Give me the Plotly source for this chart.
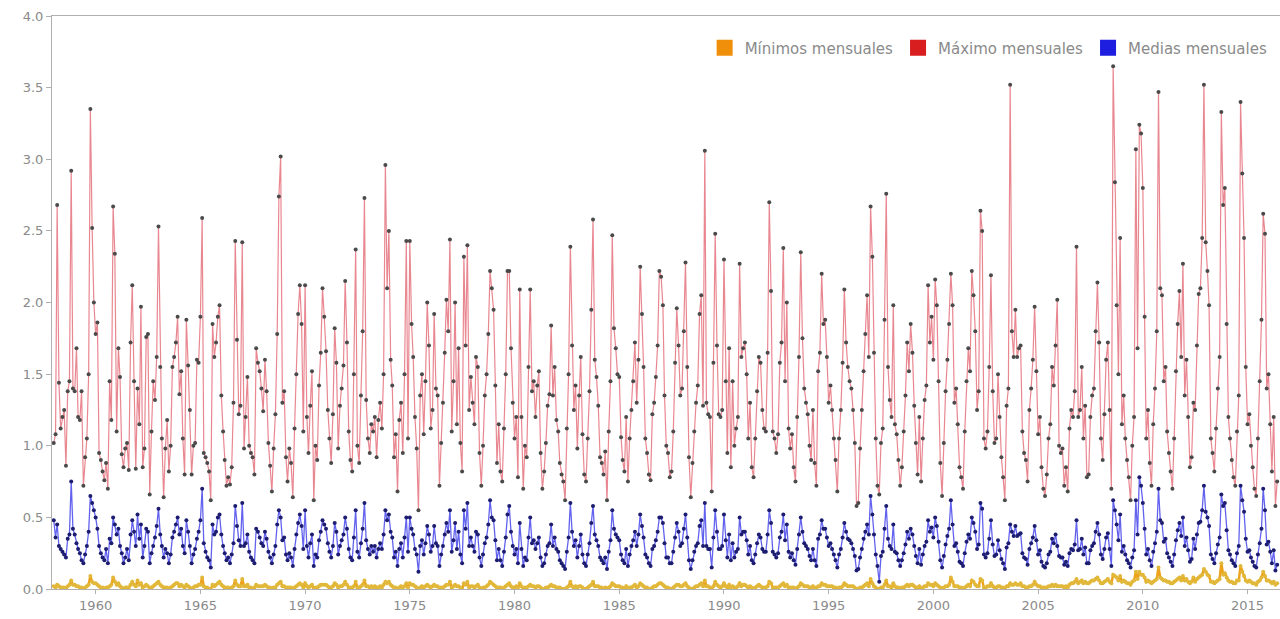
import pandas as pd
import plotly.graph_objects as go

# Monthly series, one row per year (Jan..Dec), starting January 1958
start_month = "1958-01-01"

maximos = [
    [1.02, 1.08, 2.68, 1.44, 1.12, 1.20, 1.25, 0.86, 1.38, 1.45, 2.92, 1.40],  # 1958
    [1.38, 1.68, 1.20, 1.18, 1.38, 0.72, 0.92, 1.05, 1.50, 3.35, 2.52, 2.00],  # 1959
    [1.78, 1.86, 0.95, 0.90, 0.82, 0.76, 0.88, 0.70, 1.45, 1.18, 2.67, 2.34],  # 1960
    [1.10, 1.68, 1.48, 0.94, 0.85, 0.98, 1.02, 0.83, 1.72, 2.12, 1.45, 0.84],  # 1961
    [1.40, 1.15, 1.97, 0.85, 0.98, 1.76, 1.78, 0.66, 1.10, 1.45, 1.32, 1.62],  # 1962
    [2.53, 1.55, 1.05, 0.64, 0.98, 1.18, 0.82, 1.00, 1.55, 1.62, 1.72, 1.90],  # 1963
    [1.36, 1.52, 1.05, 0.80, 1.88, 1.56, 1.25, 0.80, 1.00, 1.02, 1.60, 1.58],  # 1964
    [1.90, 2.59, 0.95, 0.92, 0.88, 0.82, 0.62, 1.85, 1.62, 1.72, 1.90, 1.98],  # 1965
    [1.35, 1.10, 0.90, 0.72, 0.78, 0.73, 0.85, 1.30, 2.43, 1.74, 1.22, 1.28],  # 1966
    [2.42, 0.98, 1.20, 1.48, 1.00, 0.95, 0.92, 0.80, 1.68, 1.58, 1.52, 1.40],  # 1967
    [1.24, 1.60, 1.38, 1.02, 0.86, 0.68, 0.98, 1.22, 1.78, 2.74, 3.02, 1.30],  # 1968
    [1.38, 0.92, 0.75, 0.98, 0.88, 0.64, 1.12, 1.50, 1.92, 2.12, 1.85, 1.10],  # 1969
    [2.12, 1.20, 0.95, 1.28, 1.52, 0.62, 1.00, 0.90, 1.42, 1.65, 2.10, 1.90],  # 1970
    [1.66, 1.25, 1.05, 0.88, 1.22, 1.82, 1.58, 0.98, 1.28, 1.40, 1.56, 2.15],  # 1971
    [1.72, 1.10, 0.90, 0.82, 1.50, 2.37, 1.00, 0.88, 1.35, 1.80, 2.73, 1.32],  # 1972
    [1.05, 0.95, 1.15, 1.10, 1.20, 0.92, 1.18, 1.30, 1.12, 1.50, 2.96, 2.10],  # 1973
    [2.50, 1.60, 1.42, 0.92, 1.08, 0.68, 1.18, 1.30, 0.95, 1.50, 2.43, 1.05],  # 1974
    [2.43, 1.85, 1.62, 1.20, 0.98, 0.55, 1.35, 1.50, 1.08, 1.45, 2.00, 1.70],  # 1975
    [1.12, 1.25, 1.92, 1.40, 1.35, 0.72, 1.02, 1.30, 1.65, 2.02, 1.80, 2.44],  # 1976
    [1.10, 1.45, 2.00, 1.15, 1.68, 1.02, 0.82, 2.32, 1.70, 2.40, 1.25, 1.48],  # 1977
    [1.30, 1.15, 1.62, 1.55, 0.95, 0.72, 1.00, 1.35, 1.50, 1.78, 2.22, 2.10],  # 1978
    [1.95, 1.42, 0.88, 1.15, 0.82, 0.75, 1.12, 1.50, 2.22, 2.22, 1.68, 1.30],  # 1979
    [1.05, 1.20, 0.78, 2.09, 1.20, 0.70, 1.00, 0.92, 1.55, 2.09, 1.38, 1.45],  # 1980
    [1.20, 1.42, 1.52, 0.95, 0.70, 0.82, 1.02, 1.28, 1.36, 1.84, 1.35, 1.55],  # 1981
    [1.18, 1.10, 0.88, 0.80, 0.75, 0.62, 1.12, 1.50, 2.39, 1.70, 1.25, 1.42],  # 1982
    [0.98, 1.35, 1.62, 1.08, 0.80, 0.75, 1.05, 1.38, 1.95, 2.58, 1.60, 1.48],  # 1983
    [1.28, 0.92, 0.88, 0.80, 0.96, 0.62, 1.10, 1.45, 2.47, 1.82, 1.68, 1.50],  # 1984
    [1.48, 1.06, 0.90, 0.82, 1.20, 0.75, 1.05, 1.25, 1.45, 1.72, 1.30, 1.60],  # 1985
    [2.25, 1.92, 1.55, 1.05, 0.95, 0.80, 0.76, 1.22, 1.30, 1.48, 1.70, 2.22],  # 1986
    [2.18, 1.98, 1.35, 1.00, 0.95, 0.78, 0.82, 1.10, 1.58, 1.96, 1.70, 1.35],  # 1987
    [1.40, 1.80, 2.28, 1.55, 0.92, 0.64, 0.88, 1.10, 1.30, 1.42, 1.92, 2.05],  # 1988
    [1.28, 3.06, 1.30, 1.22, 1.20, 0.68, 1.58, 2.48, 1.70, 1.22, 1.20, 1.25],  # 1989
    [2.30, 1.45, 0.95, 1.68, 0.85, 1.45, 1.00, 1.12, 1.20, 2.27, 1.62, 1.68],  # 1990
    [1.72, 1.50, 1.05, 1.30, 0.85, 0.78, 1.05, 1.38, 1.62, 1.58, 1.25, 1.12],  # 1991
    [1.10, 1.65, 2.70, 2.08, 1.10, 1.05, 0.95, 1.08, 1.58, 1.72, 2.38, 1.45],  # 1992
    [2.00, 1.12, 0.98, 1.08, 0.85, 0.75, 1.20, 1.62, 2.35, 1.75, 1.40, 1.30],  # 1993
    [1.22, 1.00, 0.90, 1.25, 0.88, 0.72, 1.52, 1.65, 2.20, 1.85, 1.88, 1.62],  # 1994
    [1.30, 1.42, 1.25, 1.05, 0.90, 0.68, 1.05, 1.25, 1.58, 2.09, 1.72, 1.55],  # 1995
    [1.45, 1.40, 1.25, 1.02, 0.58, 0.60, 0.98, 1.25, 1.52, 1.78, 2.05, 1.62],  # 1996
    [2.67, 2.32, 1.65, 1.05, 0.72, 0.66, 1.02, 1.12, 1.88, 2.76, 1.55, 1.32],  # 1997
    [1.20, 1.98, 1.15, 1.08, 0.90, 0.72, 0.85, 1.10, 1.35, 1.72, 1.52, 1.85],  # 1998
    [1.65, 1.28, 1.02, 0.80, 1.20, 0.75, 1.05, 1.32, 1.42, 2.12, 1.72, 1.90],  # 1999
    [1.60, 2.16, 1.98, 1.45, 0.88, 0.65, 1.02, 1.38, 1.60, 1.85, 2.20, 1.98],  # 2000
    [1.30, 1.40, 1.15, 0.85, 0.78, 0.70, 1.10, 1.45, 1.68, 1.52, 2.22, 2.05],  # 2001
    [1.80, 1.25, 1.38, 2.64, 2.50, 1.05, 0.98, 1.10, 1.55, 2.19, 1.38, 1.02],  # 2002
    [1.05, 1.50, 1.20, 0.92, 0.78, 0.62, 1.28, 1.40, 3.52, 1.80, 1.62, 1.95],  # 2003
    [1.62, 1.68, 1.70, 1.10, 0.95, 0.90, 0.75, 1.25, 1.40, 1.60, 1.97, 1.52],  # 2004
    [1.08, 1.20, 0.85, 0.70, 0.65, 0.80, 1.05, 1.15, 1.55, 1.42, 1.70, 2.02],  # 2005
    [1.00, 0.95, 0.98, 0.72, 0.85, 0.68, 1.12, 1.25, 1.20, 1.38, 2.39, 1.20],  # 2006
    [1.25, 1.55, 1.05, 1.28, 0.78, 0.80, 1.20, 1.35, 1.40, 1.80, 2.14, 1.72],  # 2007
    [1.05, 0.90, 1.22, 1.60, 1.72, 1.25, 0.70, 3.65, 2.84, 1.98, 1.50, 2.45],  # 2008
    [1.15, 1.35, 1.05, 0.90, 0.78, 0.62, 1.00, 1.20, 3.07, 1.68, 3.24, 3.18],  # 2009
    [2.80, 1.90, 1.05, 1.25, 0.88, 0.72, 1.15, 1.40, 1.80, 3.47, 2.10, 2.05],  # 2010
    [1.45, 1.55, 1.10, 0.95, 0.82, 0.70, 1.05, 1.52, 1.85, 2.08, 1.62, 2.27],  # 2011
    [1.35, 1.60, 1.20, 0.85, 0.92, 1.30, 1.25, 1.70, 2.06, 2.10, 2.45, 3.52],  # 2012
    [2.42, 2.22, 1.98, 1.05, 0.95, 0.82, 1.12, 1.40, 1.62, 3.33, 2.68, 2.80],  # 2013
    [1.85, 1.20, 1.05, 0.90, 0.78, 0.72, 1.10, 1.35, 3.40, 2.90, 2.45, 1.55],  # 2014
    [1.15, 1.22, 1.00, 0.85, 0.70, 0.65, 1.05, 1.45, 1.88, 2.62, 2.48, 1.40],  # 2015
    [1.50, 1.15, 0.82, 1.20, 0.58, 0.75],                                      # 2016
]

medias = [
    [0.48, 0.36, 0.45, 0.30, 0.28, 0.26, 0.24, 0.22, 0.35, 0.38, 0.75, 0.42],  # 1958
    [0.38, 0.32, 0.28, 0.25, 0.20, 0.18, 0.24, 0.30, 0.40, 0.65, 0.60, 0.55],  # 1959
    [0.50, 0.42, 0.30, 0.25, 0.22, 0.20, 0.28, 0.18, 0.35, 0.32, 0.50, 0.45],  # 1960
    [0.38, 0.42, 0.30, 0.25, 0.18, 0.22, 0.28, 0.20, 0.38, 0.48, 0.40, 0.30],  # 1961
    [0.52, 0.35, 0.45, 0.22, 0.30, 0.42, 0.40, 0.18, 0.25, 0.30, 0.36, 0.44],  # 1962
    [0.56, 0.38, 0.30, 0.22, 0.28, 0.25, 0.18, 0.24, 0.36, 0.40, 0.45, 0.50],  # 1963
    [0.38, 0.42, 0.30, 0.25, 0.48, 0.40, 0.30, 0.18, 0.24, 0.28, 0.35, 0.40],  # 1964
    [0.48, 0.70, 0.32, 0.26, 0.22, 0.20, 0.15, 0.45, 0.38, 0.40, 0.50, 0.52],  # 1965
    [0.38, 0.30, 0.25, 0.20, 0.22, 0.18, 0.24, 0.32, 0.58, 0.44, 0.34, 0.30],  # 1966
    [0.60, 0.30, 0.32, 0.38, 0.26, 0.22, 0.20, 0.18, 0.42, 0.40, 0.36, 0.32],  # 1967
    [0.30, 0.40, 0.35, 0.26, 0.22, 0.18, 0.24, 0.30, 0.45, 0.55, 0.50, 0.34],  # 1968
    [0.36, 0.24, 0.20, 0.25, 0.22, 0.16, 0.28, 0.38, 0.46, 0.52, 0.44, 0.28],  # 1969
    [0.55, 0.30, 0.22, 0.32, 0.38, 0.16, 0.24, 0.22, 0.34, 0.40, 0.48, 0.45],  # 1970
    [0.42, 0.32, 0.26, 0.22, 0.30, 0.46, 0.40, 0.24, 0.30, 0.34, 0.38, 0.50],  # 1971
    [0.42, 0.28, 0.22, 0.20, 0.36, 0.55, 0.26, 0.22, 0.32, 0.42, 0.60, 0.34],  # 1972
    [0.28, 0.24, 0.30, 0.26, 0.30, 0.22, 0.28, 0.32, 0.28, 0.38, 0.55, 0.48],  # 1973
    [0.52, 0.40, 0.36, 0.22, 0.26, 0.16, 0.28, 0.32, 0.22, 0.36, 0.50, 0.26],  # 1974
    [0.50, 0.42, 0.38, 0.28, 0.24, 0.12, 0.30, 0.34, 0.24, 0.32, 0.44, 0.38],  # 1975
    [0.26, 0.30, 0.44, 0.32, 0.30, 0.16, 0.24, 0.30, 0.38, 0.46, 0.40, 0.55],  # 1976
    [0.26, 0.34, 0.46, 0.28, 0.40, 0.24, 0.18, 0.55, 0.42, 0.60, 0.30, 0.36],  # 1977
    [0.30, 0.26, 0.40, 0.38, 0.22, 0.16, 0.24, 0.32, 0.36, 0.45, 0.62, 0.50],  # 1978
    [0.48, 0.34, 0.20, 0.28, 0.20, 0.16, 0.26, 0.36, 0.52, 0.58, 0.40, 0.30],  # 1979
    [0.24, 0.28, 0.18, 0.46, 0.28, 0.16, 0.22, 0.20, 0.36, 0.50, 0.32, 0.34],  # 1980
    [0.28, 0.32, 0.36, 0.22, 0.16, 0.18, 0.24, 0.30, 0.32, 0.45, 0.30, 0.36],  # 1981
    [0.28, 0.26, 0.20, 0.18, 0.16, 0.14, 0.26, 0.36, 0.60, 0.40, 0.30, 0.34],  # 1982
    [0.22, 0.30, 0.38, 0.24, 0.18, 0.16, 0.24, 0.32, 0.46, 0.58, 0.38, 0.34],  # 1983
    [0.30, 0.22, 0.20, 0.18, 0.22, 0.14, 0.26, 0.34, 0.55, 0.42, 0.38, 0.36],  # 1984
    [0.34, 0.24, 0.20, 0.18, 0.28, 0.16, 0.24, 0.30, 0.34, 0.40, 0.30, 0.38],  # 1985
    [0.52, 0.44, 0.36, 0.24, 0.22, 0.18, 0.16, 0.28, 0.30, 0.34, 0.40, 0.50],  # 1986
    [0.50, 0.46, 0.32, 0.22, 0.22, 0.18, 0.18, 0.26, 0.36, 0.46, 0.40, 0.30],  # 1987
    [0.32, 0.42, 0.52, 0.36, 0.20, 0.14, 0.20, 0.26, 0.30, 0.32, 0.44, 0.48],  # 1988
    [0.30, 0.60, 0.30, 0.28, 0.28, 0.15, 0.36, 0.55, 0.40, 0.28, 0.28, 0.30],  # 1989
    [0.52, 0.34, 0.22, 0.38, 0.20, 0.32, 0.22, 0.26, 0.28, 0.50, 0.38, 0.40],  # 1990
    [0.40, 0.34, 0.24, 0.30, 0.20, 0.18, 0.24, 0.32, 0.38, 0.36, 0.28, 0.26],  # 1991
    [0.26, 0.38, 0.55, 0.46, 0.26, 0.24, 0.22, 0.25, 0.36, 0.40, 0.52, 0.34],  # 1992
    [0.45, 0.26, 0.22, 0.25, 0.20, 0.17, 0.28, 0.38, 0.50, 0.40, 0.32, 0.30],  # 1993
    [0.28, 0.23, 0.20, 0.28, 0.20, 0.16, 0.35, 0.38, 0.48, 0.42, 0.42, 0.36],  # 1994
    [0.30, 0.32, 0.28, 0.24, 0.20, 0.15, 0.24, 0.28, 0.36, 0.46, 0.40, 0.35],  # 1995
    [0.34, 0.32, 0.28, 0.23, 0.13, 0.14, 0.22, 0.28, 0.35, 0.40, 0.45, 0.38],  # 1996
    [0.65, 0.52, 0.38, 0.24, 0.16, 0.05, 0.23, 0.26, 0.42, 0.58, 0.35, 0.30],  # 1997
    [0.28, 0.45, 0.26, 0.25, 0.20, 0.16, 0.20, 0.25, 0.31, 0.40, 0.35, 0.42],  # 1998
    [0.38, 0.30, 0.23, 0.18, 0.28, 0.17, 0.24, 0.30, 0.33, 0.48, 0.40, 0.43],  # 1999
    [0.36, 0.50, 0.44, 0.33, 0.20, 0.15, 0.23, 0.31, 0.37, 0.42, 0.62, 0.45],  # 2000
    [0.30, 0.32, 0.26, 0.19, 0.18, 0.16, 0.25, 0.33, 0.38, 0.35, 0.50, 0.46],  # 2001
    [0.40, 0.28, 0.31, 0.60, 0.56, 0.24, 0.22, 0.25, 0.35, 0.48, 0.31, 0.23],  # 2002
    [0.24, 0.34, 0.27, 0.21, 0.18, 0.14, 0.29, 0.32, 0.45, 0.40, 0.37, 0.44],  # 2003
    [0.37, 0.38, 0.39, 0.25, 0.22, 0.21, 0.17, 0.28, 0.32, 0.36, 0.44, 0.34],  # 2004
    [0.24, 0.27, 0.19, 0.16, 0.15, 0.18, 0.24, 0.26, 0.35, 0.32, 0.38, 0.30],  # 2005
    [0.23, 0.22, 0.22, 0.17, 0.19, 0.16, 0.25, 0.28, 0.27, 0.31, 0.48, 0.27],  # 2006
    [0.28, 0.35, 0.24, 0.29, 0.18, 0.18, 0.27, 0.30, 0.32, 0.40, 0.46, 0.38],  # 2007
    [0.24, 0.21, 0.28, 0.36, 0.39, 0.28, 0.16, 0.62, 0.55, 0.45, 0.34, 0.52],  # 2008
    [0.26, 0.30, 0.24, 0.20, 0.18, 0.15, 0.22, 0.27, 0.62, 0.38, 0.78, 0.72],  # 2009
    [0.60, 0.42, 0.24, 0.28, 0.20, 0.16, 0.26, 0.32, 0.40, 0.70, 0.48, 0.46],  # 2010
    [0.33, 0.35, 0.25, 0.22, 0.19, 0.16, 0.24, 0.34, 0.41, 0.46, 0.37, 0.50],  # 2011
    [0.30, 0.36, 0.27, 0.19, 0.21, 0.35, 0.28, 0.38, 0.46, 0.47, 0.55, 0.72],  # 2012
    [0.54, 0.50, 0.44, 0.24, 0.21, 0.18, 0.25, 0.31, 0.36, 0.66, 0.58, 0.60],  # 2013
    [0.41, 0.27, 0.24, 0.20, 0.18, 0.16, 0.25, 0.30, 0.72, 0.62, 0.54, 0.35],  # 2014
    [0.26, 0.27, 0.22, 0.19, 0.16, 0.15, 0.24, 0.32, 0.42, 0.70, 0.55, 0.31],  # 2015
    [0.33, 0.26, 0.18, 0.27, 0.13, 0.17],                                      # 2016
]

minimos = [
    [0.02, 0.01, 0.03, 0.02, 0.01, 0.01, 0.01, 0.00, 0.02, 0.03, 0.06, 0.03],  # 1958
    [0.03, 0.02, 0.02, 0.01, 0.01, 0.00, 0.01, 0.02, 0.03, 0.09, 0.05, 0.04],  # 1959
    [0.04, 0.03, 0.02, 0.01, 0.01, 0.00, 0.01, 0.01, 0.02, 0.03, 0.08, 0.05],  # 1960
    [0.03, 0.04, 0.02, 0.01, 0.00, 0.01, 0.01, 0.01, 0.03, 0.05, 0.03, 0.02],  # 1961
    [0.06, 0.03, 0.04, 0.01, 0.02, 0.03, 0.02, 0.00, 0.01, 0.02, 0.03, 0.04],  # 1962
    [0.05, 0.03, 0.02, 0.01, 0.01, 0.01, 0.00, 0.01, 0.02, 0.03, 0.04, 0.04],  # 1963
    [0.02, 0.03, 0.02, 0.01, 0.03, 0.02, 0.01, 0.00, 0.01, 0.02, 0.02, 0.03],  # 1964
    [0.03, 0.08, 0.02, 0.01, 0.01, 0.00, 0.00, 0.03, 0.02, 0.03, 0.04, 0.05],  # 1965
    [0.03, 0.02, 0.01, 0.01, 0.01, 0.00, 0.01, 0.02, 0.06, 0.03, 0.02, 0.02],  # 1966
    [0.07, 0.02, 0.02, 0.03, 0.01, 0.01, 0.00, 0.01, 0.03, 0.02, 0.02, 0.02],  # 1967
    [0.02, 0.03, 0.02, 0.01, 0.01, 0.00, 0.01, 0.01, 0.03, 0.04, 0.05, 0.02],  # 1968
    [0.02, 0.01, 0.01, 0.01, 0.01, 0.00, 0.01, 0.02, 0.03, 0.04, 0.03, 0.01],  # 1969
    [0.04, 0.02, 0.01, 0.02, 0.03, 0.00, 0.01, 0.01, 0.02, 0.03, 0.03, 0.03],  # 1970
    [0.03, 0.02, 0.01, 0.01, 0.02, 0.04, 0.03, 0.01, 0.02, 0.02, 0.03, 0.05],  # 1971
    [0.03, 0.01, 0.01, 0.01, 0.02, 0.05, 0.01, 0.01, 0.02, 0.03, 0.06, 0.02],  # 1972
    [0.02, 0.01, 0.02, 0.01, 0.02, 0.01, 0.01, 0.02, 0.01, 0.03, 0.05, 0.04],  # 1973
    [0.05, 0.03, 0.02, 0.01, 0.01, 0.00, 0.01, 0.02, 0.01, 0.02, 0.04, 0.01],  # 1974
    [0.04, 0.03, 0.03, 0.02, 0.01, 0.00, 0.01, 0.02, 0.01, 0.02, 0.03, 0.02],  # 1975
    [0.01, 0.02, 0.03, 0.02, 0.02, 0.00, 0.01, 0.01, 0.02, 0.03, 0.03, 0.05],  # 1976
    [0.01, 0.02, 0.03, 0.02, 0.02, 0.01, 0.00, 0.04, 0.03, 0.05, 0.01, 0.02],  # 1977
    [0.02, 0.01, 0.02, 0.03, 0.01, 0.00, 0.01, 0.01, 0.02, 0.03, 0.05, 0.04],  # 1978
    [0.03, 0.02, 0.01, 0.01, 0.01, 0.00, 0.01, 0.02, 0.03, 0.04, 0.02, 0.01],  # 1979
    [0.01, 0.02, 0.01, 0.04, 0.02, 0.00, 0.01, 0.01, 0.02, 0.03, 0.02, 0.02],  # 1980
    [0.01, 0.02, 0.02, 0.01, 0.00, 0.00, 0.01, 0.01, 0.02, 0.03, 0.02, 0.02],  # 1981
    [0.01, 0.01, 0.01, 0.00, 0.00, 0.00, 0.01, 0.02, 0.05, 0.02, 0.01, 0.02],  # 1982
    [0.01, 0.02, 0.02, 0.01, 0.00, 0.00, 0.01, 0.02, 0.03, 0.05, 0.02, 0.02],  # 1983
    [0.02, 0.01, 0.01, 0.00, 0.01, 0.00, 0.01, 0.02, 0.04, 0.03, 0.02, 0.02],  # 1984
    [0.02, 0.01, 0.01, 0.00, 0.02, 0.00, 0.01, 0.01, 0.02, 0.03, 0.01, 0.02],  # 1985
    [0.04, 0.03, 0.02, 0.01, 0.01, 0.00, 0.00, 0.01, 0.02, 0.02, 0.03, 0.04],  # 1986
    [0.04, 0.03, 0.02, 0.01, 0.01, 0.00, 0.00, 0.01, 0.02, 0.03, 0.03, 0.02],  # 1987
    [0.02, 0.03, 0.04, 0.02, 0.01, 0.00, 0.00, 0.01, 0.02, 0.02, 0.03, 0.04],  # 1988
    [0.02, 0.06, 0.02, 0.02, 0.01, 0.00, 0.02, 0.05, 0.03, 0.02, 0.01, 0.02],  # 1989
    [0.04, 0.02, 0.01, 0.03, 0.01, 0.02, 0.01, 0.01, 0.02, 0.04, 0.02, 0.03],  # 1990
    [0.03, 0.02, 0.01, 0.02, 0.01, 0.00, 0.01, 0.02, 0.03, 0.02, 0.01, 0.01],  # 1991
    [0.01, 0.02, 0.05, 0.04, 0.01, 0.01, 0.01, 0.01, 0.02, 0.03, 0.04, 0.02],  # 1992
    [0.03, 0.01, 0.01, 0.01, 0.01, 0.00, 0.01, 0.02, 0.04, 0.03, 0.02, 0.02],  # 1993
    [0.02, 0.01, 0.01, 0.02, 0.01, 0.00, 0.02, 0.02, 0.04, 0.03, 0.03, 0.02],  # 1994
    [0.02, 0.02, 0.02, 0.01, 0.01, 0.00, 0.01, 0.01, 0.02, 0.04, 0.03, 0.02],  # 1995
    [0.02, 0.02, 0.02, 0.01, 0.00, 0.00, 0.01, 0.01, 0.02, 0.03, 0.04, 0.02],  # 1996
    [0.07, 0.04, 0.02, 0.01, 0.00, 0.00, 0.01, 0.01, 0.03, 0.06, 0.02, 0.02],  # 1997
    [0.01, 0.04, 0.02, 0.01, 0.01, 0.00, 0.01, 0.01, 0.02, 0.03, 0.02, 0.03],  # 1998
    [0.03, 0.02, 0.01, 0.01, 0.02, 0.00, 0.01, 0.02, 0.02, 0.04, 0.03, 0.03],  # 1999
    [0.02, 0.04, 0.03, 0.02, 0.01, 0.00, 0.01, 0.02, 0.02, 0.03, 0.08, 0.05],  # 2000
    [0.02, 0.02, 0.02, 0.01, 0.01, 0.00, 0.01, 0.02, 0.03, 0.02, 0.06, 0.05],  # 2001
    [0.03, 0.02, 0.02, 0.07, 0.06, 0.01, 0.01, 0.02, 0.02, 0.04, 0.02, 0.01],  # 2002
    [0.01, 0.02, 0.02, 0.01, 0.01, 0.00, 0.02, 0.02, 0.04, 0.03, 0.03, 0.04],  # 2003
    [0.03, 0.03, 0.04, 0.02, 0.02, 0.01, 0.01, 0.02, 0.02, 0.03, 0.05, 0.03],  # 2004
    [0.02, 0.02, 0.01, 0.01, 0.01, 0.01, 0.02, 0.02, 0.03, 0.02, 0.03, 0.02],  # 2005
    [0.02, 0.02, 0.02, 0.01, 0.02, 0.01, 0.03, 0.04, 0.04, 0.05, 0.07, 0.04],  # 2006
    [0.05, 0.06, 0.04, 0.05, 0.04, 0.04, 0.05, 0.06, 0.06, 0.07, 0.08, 0.06],  # 2007
    [0.04, 0.04, 0.05, 0.06, 0.07, 0.05, 0.04, 0.10, 0.09, 0.08, 0.06, 0.09],  # 2008
    [0.05, 0.06, 0.05, 0.04, 0.04, 0.03, 0.05, 0.06, 0.12, 0.07, 0.12, 0.10],  # 2009
    [0.10, 0.08, 0.05, 0.06, 0.05, 0.04, 0.05, 0.06, 0.07, 0.15, 0.08, 0.07],  # 2010
    [0.06, 0.06, 0.05, 0.05, 0.04, 0.04, 0.05, 0.06, 0.07, 0.08, 0.06, 0.09],  # 2011
    [0.06, 0.07, 0.05, 0.04, 0.05, 0.08, 0.05, 0.07, 0.08, 0.09, 0.10, 0.14],  # 2012
    [0.12, 0.10, 0.09, 0.05, 0.05, 0.04, 0.05, 0.06, 0.07, 0.18, 0.10, 0.11],  # 2013
    [0.08, 0.06, 0.05, 0.05, 0.04, 0.04, 0.06, 0.06, 0.16, 0.12, 0.09, 0.06],  # 2014
    [0.05, 0.06, 0.05, 0.04, 0.04, 0.03, 0.05, 0.06, 0.08, 0.12, 0.09, 0.06],  # 2015
    [0.06, 0.05, 0.04, 0.05, 0.03, 0.04],                                      # 2016
]

series_names = ["Mínimos mensuales", "Máximo mensuales", "Medias mensuales"]
legend_colors = ["#f0900a", "#d81e1e", "#1e1ee0"]

y_ticks = [0.0, 0.5, 1.0, 1.5, 2.0, 2.5, 3.0, 3.5, 4.0]


def flatten(rows):
    return [v for row in rows for v in row]


max_vals = flatten(maximos)
med_vals = flatten(medias)
min_vals = flatten(minimos)
dates = pd.date_range(start_month, periods=len(max_vals), freq="MS")

fig = go.Figure()

fig.add_trace(go.Scatter(
    x=dates, y=max_vals, mode="lines+markers", showlegend=False,
    line=dict(color="rgba(228,105,118,0.8)", width=1.2),
    marker=dict(color="#4a4a4a", size=4),
))
fig.add_trace(go.Scatter(
    x=dates, y=med_vals, mode="lines+markers", showlegend=False,
    line=dict(color="rgba(70,70,235,0.85)", width=1.3),
    marker=dict(color="#1c1c70", size=4),
))
fig.add_trace(go.Scatter(
    x=dates, y=min_vals, mode="lines+markers", showlegend=False,
    line=dict(color="#eda21c", width=2.5),
    marker=dict(color="#e2b83a", size=4),
))

# legend entries (coloured squares)
for name, col in zip(series_names, legend_colors):
    fig.add_trace(go.Scatter(
        x=[None], y=[None], mode="markers", name=name,
        marker=dict(symbol="square", size=16, color=col),
    ))

fig.update_layout(
    width=1280, height=619,
    margin=dict(l=52, r=0, t=16, b=30),
    paper_bgcolor="white", plot_bgcolor="white",
    font=dict(family="DejaVu Sans, Verdana, sans-serif", color="#8a8a8a", size=13),
    showlegend=True,
    legend=dict(
        orientation="h", x=0.994, xanchor="right", y=0.944, yanchor="middle",
        bgcolor="rgba(0,0,0,0)", font=dict(size=15, color="#8a8a8a"),
        itemwidth=30, tracegroupgap=0,
    ),
    xaxis=dict(
        type="date", automargin=False,
        range=["1957-12-01", "2016-07-20"],
        tick0="1960-01-01", dtick="M60", tickformat="%Y",
        showgrid=False, zeroline=False,
        showline=True, linecolor="#b0b0b0", linewidth=1, mirror=True,
        ticks="outside", ticklen=4, tickcolor="#b0b0b0",
    ),
    yaxis=dict(
        automargin=False,
        range=[0, 4.0], tickvals=y_ticks, tickformat=".1f",
        showgrid=False, zeroline=False,
        showline=True, linecolor="#b0b0b0", linewidth=1,
        ticks="outside", ticklen=5, tickcolor="#b0b0b0",
    ),
)

fig.write_html(
    "out.html",
    config={"displayModeBar": False},
    post_script="document.body.style.margin='0';document.body.style.overflow='hidden';",
)
